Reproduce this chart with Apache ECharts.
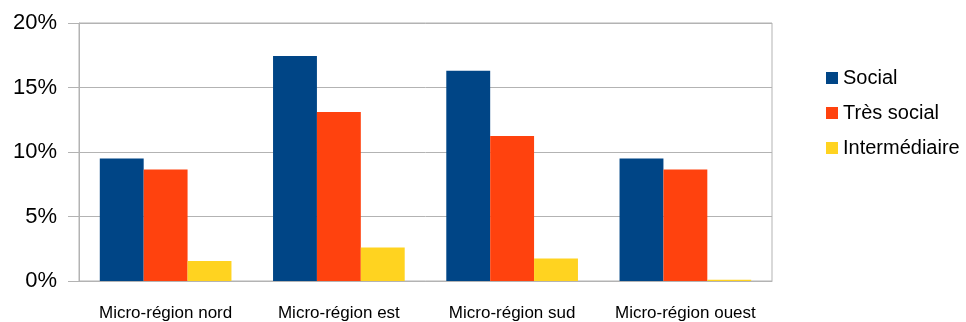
<!DOCTYPE html>
<html>
<head>
<meta charset="utf-8">
<script src="https://cdn.jsdelivr.net/npm/echarts@6/dist/echarts.min.js"></script>
<style>
  html, body { margin: 0; padding: 0; background: #fff; }
  #chart { width: 966px; height: 322px; }
</style>
</head>
<body>
<div id="chart"></div>
<script>
const regions = ['Micro-région nord', 'Micro-région est', 'Micro-région sud', 'Micro-région ouest']
const social = [9.5, 17.45, 16.3, 9.5]
const tresSocial = [8.65, 13.1, 11.25, 8.65]
const intermediaire = [1.55, 2.6, 1.75, 0.1]

const gridColor = '#b3b3b3'
const font = 'Liberation Sans, Arial, sans-serif'

const myChart = echarts.init(document.getElementById('chart'))
myChart.setOption({
  animation: false,
  color: ['#004586', '#ff420e', '#ffd320'],
  grid: {
    left: 79,
    right: 194,
    top: 23,
    bottom: 40,
    show: true,
    borderColor: gridColor,
    borderWidth: 1
  },
  legend: {
    orient: 'vertical',
    left: 821,
    top: 63,
    itemWidth: 12,
    itemHeight: 12,
    itemGap: 15,
    icon: 'rect',
    textStyle: { fontFamily: font, fontSize: 20, color: '#000' },
    data: ['Social', 'Très social', 'Intermédiaire']
  },
  xAxis: {
    type: 'category',
    data: regions,
    axisLine: { lineStyle: { color: gridColor } },
    axisTick: { length: 11, interval: 0, lineStyle: { color: gridColor } },
    axisLabel: { fontFamily: font, fontSize: 17, color: '#000', margin: 24, interval: 0 }
  },
  yAxis: {
    type: 'value',
    min: 0,
    max: 20,
    interval: 5,
    axisLine: { show: true, lineStyle: { color: gridColor } },
    axisTick: { show: true, length: 11, lineStyle: { color: gridColor } },
    splitLine: { lineStyle: { color: gridColor } },
    axisLabel: { fontFamily: font, fontSize: 22, color: '#000', margin: 22, formatter: '{value}%' }
  },
  series: [
    { name: 'Social', type: 'bar', data: social, barGap: '0%', barCategoryGap: '24%' },
    { name: 'Très social', type: 'bar', data: tresSocial, barGap: '0%', barCategoryGap: '24%' },
    { name: 'Intermédiaire', type: 'bar', data: intermediaire, barGap: '0%', barCategoryGap: '24%' }
  ]
})
</script>
</body>
</html>
